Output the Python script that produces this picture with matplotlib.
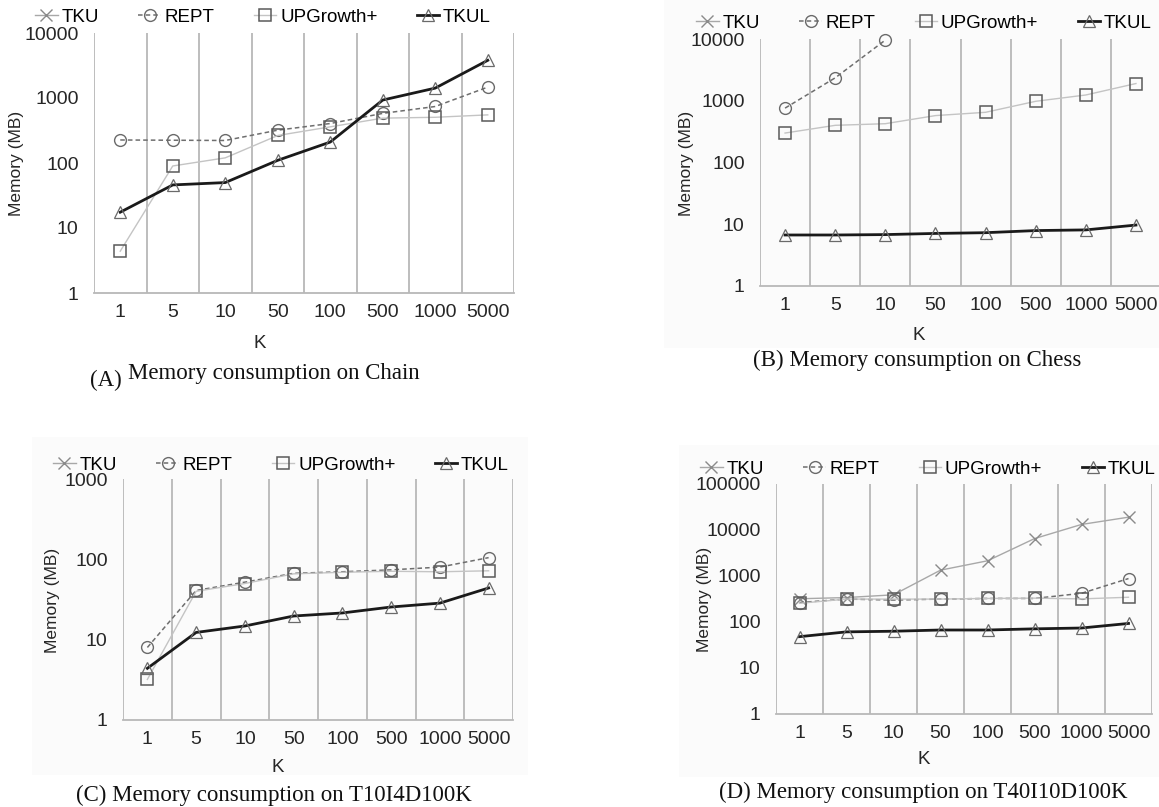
import numpy as np
import matplotlib
matplotlib.use('Agg')
import matplotlib.pyplot as plt
from matplotlib.patches import Rectangle

nan = np.nan

# x categories (K)
k_labels = ['1', '5', '10', '50', '100', '500', '1000', '5000']

# (A) Chain
chain_tku = [nan] * 8
chain_rept = [226, 224, 222, 320, 405, 580, 740, 1470]
chain_upg = [4.4, 90, 120, 265, 360, 490, 505, 550]
chain_tkul = [17.5, 46, 50, 110, 210, 930, 1420, 3800]

# (B) Chess
chess_tku = [nan] * 8
chess_rept = [760, 2350, 9600, nan, nan, nan, nan, nan]
chess_upg = [300, 400, 425, 575, 650, 980, 1240, 1900]
chess_tkul = [6.7, 6.7, 6.8, 7.1, 7.3, 7.9, 8.1, 9.7]

# (C) T10I4D100K
t10_tku = [nan] * 8
t10_rept = [8.0, 41, 52, 67, 70, 74, 80, 105]
t10_upg = [3.2, 40, 50, 66, 69, 71, 70, 72]
t10_tkul = [4.4, 12.3, 14.8, 19.7, 21.5, 25.5, 28.5, 44]

# (D) T40I10D100K
t40_tku = [320, 340, 390, 1340, 2140, 6500, 13200, 19000]
t40_rept = [265, 315, 300, 315, 325, 325, 420, 880]
t40_upg = [255, 315, 315, 315, 325, 330, 318, 345]
t40_tkul = [48, 61, 63, 67, 67, 71, 74, 93]

series_names = ['TKU', 'REPT', 'UPGrowth+', 'TKUL']
captions = ['(A) Memory consumption on Chain',
            '(B) Memory consumption on Chess',
            '(C) Memory consumption on T10I4D100K',
            '(D) Memory consumption on T40I10D100K']

W, H = 1159, 807
fig = plt.figure(figsize=(W / 100, H / 100), dpi=100)
fig.patch.set_facecolor('white')

SANS = 'Liberation Sans'
SERIF = 'Liberation Serif'
TXT = '#262626'


def fx(x):
    return x / W


def fy(y):
    return 1 - y / H


styles = [
    dict(color='#a8a8a8', ls='-', lw=1.0, marker='x', ms=8, mew=1.0,
         mfc='none', mec='#8a8a8a'),
    dict(color='#6e6e6e', ls=(0, (3, 2)), lw=1.1, marker='o', ms=8.5, mew=1.0,
         mfc='none', mec='#6a6a6a'),
    dict(color='#c4c4c4', ls='-', lw=1.0, marker='s', ms=8.5, mew=1.1,
         mfc='none', mec='#5a5a5a'),
    dict(color='#1a1a1a', ls='-', lw=2.0, marker='^', ms=8, mew=0.9,
         mfc='none', mec='#6a6a6a'),
]

# layout: axes box in pixels (left, right, top, bottom), y max, legend centre,
# y label centre, K label centre
panels = [
    dict(data=[chain_tku, chain_rept, chain_upg, chain_tkul], box=(94, 514, 33, 293),
         ymax=1e4, leg=(263, 17), ylab=(17, 163), klab=(260, 343)),
    dict(data=[chess_tku, chess_rept, chess_upg, chess_tkul], box=(760, 1161, 39, 286),
         ymax=1e4, leg=(924, 23), ylab=(686, 163), klab=(919, 335)),
    dict(data=[t10_tku, t10_rept, t10_upg, t10_tkul], box=(123, 513, 479, 720),
         ymax=1e3, leg=(281, 465), ylab=(52, 600), klab=(278, 767)),
    dict(data=[t40_tku, t40_rept, t40_upg, t40_tkul], box=(776, 1152, 484, 714),
         ymax=1e5, leg=(928, 469), ylab=(704, 599), klab=(924, 760)),
]

# very faint background of the pasted chart images
for (x0, y0, x1, y1) in [(664, 0, 1159, 348), (32, 437, 528, 775), (679, 445, 1159, 777)]:
    fig.patches.append(Rectangle((fx(x0), fy(y1)), (x1 - x0) / W, (y1 - y0) / H,
                                 transform=fig.transFigure, facecolor='#fbfbfb',
                                 edgecolor='none', zorder=-10))

x = np.arange(len(k_labels))
for i, p in enumerate(panels):
    l, r, t, b = p['box']
    ax = fig.add_axes([fx(l), fy(b), (r - l) / W, (b - t) / H])
    ax.set_facecolor('none')
    handles = []
    for name, vals, st in zip(series_names, p['data'], styles):
        h, = ax.plot(x, vals, label=name, zorder=3, clip_on=False, **st)
        handles.append(h)
    ax.set_yscale('log')
    ax.set_ylim(1, p['ymax'])
    ax.set_xlim(-0.5, len(k_labels) - 0.5)
    decades = [10 ** d for d in range(int(np.log10(p['ymax'])) + 1)]
    ax.set_yticks(decades)
    ax.set_yticklabels([str(d) for d in decades])
    ax.yaxis.set_minor_locator(matplotlib.ticker.NullLocator())
    ax.set_xticks(x)
    ax.set_xticklabels(k_labels)
    ax.set_xticks(np.arange(-0.5, len(k_labels)), minor=True)
    ax.grid(which='minor', axis='x', color='#b8b8b8', lw=1.3)
    ax.tick_params(which='both', length=0)
    ax.tick_params(axis='y', pad=11, labelsize=14, labelcolor=TXT)
    ax.tick_params(axis='x', pad=8, labelsize=14, labelcolor=TXT)
    for s in ['top', 'right', 'left']:
        ax.spines[s].set_visible(False)
    ax.spines['bottom'].set_color('#b8b8b8')
    ax.spines['bottom'].set_linewidth(1.3)
    for lab in ax.get_xticklabels() + ax.get_yticklabels():
        lab.set_fontfamily(SANS)

    fig.text(fx(p['ylab'][0]), fy(p['ylab'][1]), 'Memory (MB)', rotation=90,
             ha='center', va='center', fontsize=12.5, family=SANS, color=TXT)
    fig.text(fx(p['klab'][0]), fy(p['klab'][1]), 'K', ha='center', va='center',
             fontsize=13.5, family=SANS, color=TXT)
    ax.legend(handles=handles, ncol=4, loc='center', frameon=False,
              bbox_to_anchor=(fx(p['leg'][0]), fy(p['leg'][1])),
              bbox_transform=fig.transFigure, handlelength=1.2, handletextpad=0.2,
              columnspacing=2.1, borderaxespad=0,
              prop=dict(family=SANS, size=13.5))

# captions
fig.text(fx(106), fy(380), '(A)', ha='center', va='center', fontsize=16.5,
         family=SERIF, color='#111111')
fig.text(fx(128), fy(373), captions[0][4:], ha='left', va='center', fontsize=16.5,
         family=SERIF, color='#111111')
for cap, (cx, cy) in zip(captions[1:], [(917, 360), (274, 795), (923, 792)]):
    fig.text(fx(cx), fy(cy), cap, ha='center', va='center', fontsize=16.5,
             family=SERIF, color='#111111')

fig.savefig('out.png', dpi=100)
